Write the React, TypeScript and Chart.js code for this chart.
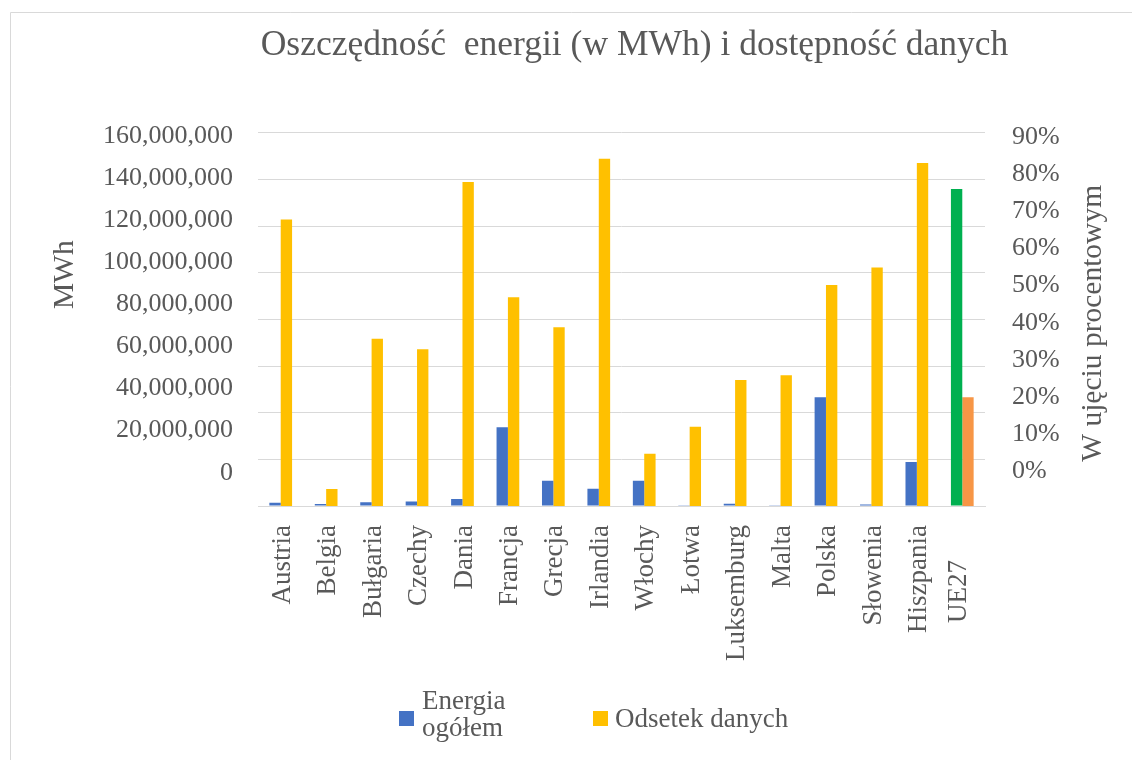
import React, { useEffect, useRef } from "react";
import { Chart, registerables } from "chart.js";

Chart.register(...registerables);

const categories = [
  "Austria", "Belgia", "Bułgaria", "Czechy", "Dania", "Francja", "Grecja", "Irlandia",
  "Włochy", "Łotwa", "Luksemburg", "Malta", "Polska", "Słowenia", "Hiszpania", "UE27",
];
const energiaOgolem = [
  1.4e6, 0.9e6, 1.6e6, 1.9e6, 3.0e6, 33.7e6, 10.8e6, 7.4e6,
  10.8e6, 0.3e6, 1.0e6, 0.3e6, 46.6e6, 0.6e6, 18.9e6, 135.9e6,
];
const odsetekDanych = [
  69.1, 4.1, 40.3, 37.8, 78.1, 50.3, 43.1, 83.7,
  12.6, 19.1, 30.4, 31.5, 53.3, 57.5, 82.7, 26.2,
];
const leftTickValues = [0, 20e6, 40e6, 60e6, 80e6, 100e6, 120e6, 140e6, 160e6];
const rightTickValues = [0, 10, 20, 30, 40, 50, 60, 70, 80, 90];

const TITLE = "Oszczędność  energii (w MWh) i dostępność danych";
const LEFT_TITLE = "MWh";
const RIGHT_TITLE = "W ujęciu procentowym";
const SERIES_1 = ["Energia", "ogółem"];
const SERIES_2 = "Odsetek danych";

const FONT = '"Liberation Serif", "Times New Roman", serif';
const TEXT = "#595959";
const GRID = "#D9D9D9";
const BLUE = "#4472C4";
const GOLD = "#FFC000";
const GREEN = "#00B050";
const ORANGE = "#F79646";

const LAST = categories.length - 1;

const extrasPlugin = {
  id: "extras",
  beforeDraw(chart: any) {
    const ctx = chart.ctx;
    ctx.save();
    ctx.strokeStyle = GRID;
    ctx.lineWidth = 1;
    ctx.beginPath();
    ctx.moveTo(10.5, chart.height);
    ctx.lineTo(10.5, 12.5);
    ctx.lineTo(chart.width, 12.5);
    ctx.stroke();
    ctx.restore();
  },
  afterDraw(chart: any) {
    const ctx = chart.ctx;
    const a = chart.chartArea;
    ctx.save();
    ctx.fillStyle = TEXT;
    // chart title
    ctx.font = `35.5px ${FONT}`;
    ctx.textAlign = "center";
    ctx.textBaseline = "middle";
    ctx.fillText(TITLE, (a.left + a.right) / 2 + 13, 46);

    ctx.font = `29.5px ${FONT}`;
    // left axis title
    ctx.save();
    ctx.translate(a.left - 193, a.top + 142);
    ctx.rotate(-Math.PI / 2);
    ctx.fillText(LEFT_TITLE, 0, 0);
    ctx.restore();
    // right axis title
    ctx.save();
    ctx.translate(a.right + 108, (a.top + a.bottom) / 2 + 4);
    ctx.rotate(-Math.PI / 2);
    ctx.fillText(RIGHT_TITLE, 0, 0);
    ctx.restore();

    // last category label (set lower than the others, as in the source)
    const xs = chart.scales.x;
    ctx.font = `27px ${FONT}`;
    ctx.save();
    ctx.translate(xs.getPixelForTick(LAST) - 3, a.bottom + 54);
    ctx.rotate(-Math.PI / 2);
    ctx.textAlign = "right";
    ctx.textBaseline = "middle";
    ctx.fillText(categories[LAST], 0, 0);
    ctx.restore();

    // legend
    ctx.textAlign = "left";
    ctx.textBaseline = "alphabetic";
    ctx.fillStyle = BLUE;
    ctx.fillRect(399, 711, 15, 15);
    ctx.fillStyle = TEXT;
    ctx.fillText(SERIES_1[0], 422, 709);
    ctx.fillText(SERIES_1[1], 422, 736);
    ctx.fillStyle = GOLD;
    ctx.fillRect(593, 711, 15, 15);
    ctx.fillStyle = TEXT;
    ctx.fillText(SERIES_2, 615, 727);
    ctx.restore();
  },
};

export default function App() {
  const ref = useRef<HTMLCanvasElement | null>(null);

  useEffect(() => {
    if (!ref.current) return;
    const blueColors = categories.map((_, i) => (i === LAST ? GREEN : BLUE));
    const goldColors = categories.map((_, i) => (i === LAST ? ORANGE : GOLD));
    const tickFont = { family: FONT, size: 26 };
    const noPad = (s: any) => { s.paddingTop = 0; s.paddingBottom = 0; };

    const chart = new Chart(ref.current, {
      type: "bar",
      data: {
        labels: categories,
        datasets: [
          {
            label: SERIES_1.join(" "),
            data: energiaOgolem,
            backgroundColor: blueColors,
            yAxisID: "yData",
            categoryPercentage: 0.5,
            barPercentage: 1.0,
          },
          {
            label: SERIES_2,
            data: odsetekDanych,
            backgroundColor: goldColors,
            yAxisID: "yPct",
            categoryPercentage: 0.5,
            barPercentage: 1.0,
          },
        ],
      },
      plugins: [extrasPlugin],
      options: {
        responsive: false,
        animation: false,
        layout: { padding: { top: 132.7, left: 0, right: 0, bottom: 0 } },
        plugins: {
          legend: { display: false },
          tooltip: { enabled: false },
          title: { display: false },
        },
        scales: {
          x: {
            grid: { display: false, drawTicks: false },
            border: { display: true, color: GRID },
            ticks: {
              color: TEXT,
              font: { family: FONT, size: 27 },
              minRotation: 90,
              maxRotation: 90,
              autoSkip: false,
              padding: 19,
              labelOffset: 2,
              callback: (_v: any, i: number) => (i === LAST ? "" : categories[i]),
            },
            afterFit: (s: any) => {
              s.height = 760 - 506;
              s.paddingLeft = 0;
              s.paddingRight = 0;
            },
          },
          yData: {
            type: "linear",
            position: "left",
            min: 0,
            max: 160e6,
            weight: 0,
            ticks: { display: false, stepSize: 20e6 },
            grid: { color: GRID, drawTicks: false },
            border: { display: false },
            afterFit: (s: any) => { s.width = 0; noPad(s); },
          },
          yPct: {
            type: "linear",
            position: "right",
            min: 0,
            max: 90,
            display: false,
          },
          yLabL: {
            type: "linear",
            position: "left",
            min: -15.81e6,
            max: 161.42e6,
            weight: 1,
            grid: { display: false, drawTicks: false },
            border: { display: false },
            afterBuildTicks: (s: any) => {
              s.ticks = leftTickValues.map((v) => ({ value: v }));
            },
            ticks: {
              color: TEXT,
              font: tickFont,
              padding: 25,
              callback: (v: any) => Number(v).toLocaleString("en-US"),
            },
            afterFit: (s: any) => { s.width = 258; noPad(s); },
          },
          yLabR: {
            type: "linear",
            position: "right",
            min: -9.28,
            max: 91.075,
            weight: 1,
            grid: { display: false, drawTicks: false },
            border: { display: false },
            afterBuildTicks: (s: any) => {
              s.ticks = rightTickValues.map((v) => ({ value: v }));
            },
            ticks: {
              color: TEXT,
              font: tickFont,
              padding: 27,
              callback: (v: any) => `${v}%`,
            },
            afterFit: (s: any) => { s.width = 147; noPad(s); },
          },
        },
      } as any,
    });
    return () => chart.destroy();
  }, []);

  return (
    <div style={{ position: "fixed", left: 0, top: 0, width: 1132, height: 760, background: "#fff" }}>
      <canvas ref={ref} width={1132} height={760} />
    </div>
  );
}
